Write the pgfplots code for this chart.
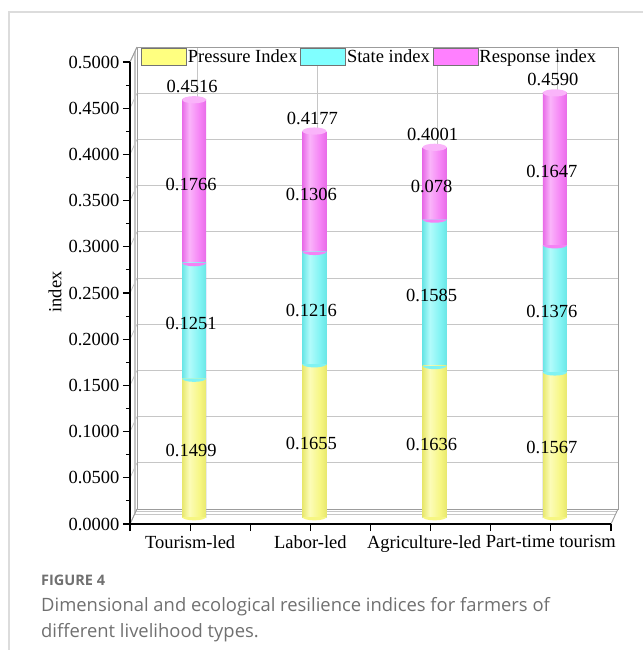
\documentclass[border=0pt]{standalone}
\usepackage{pgfplots}
\pgfplotsset{compat=1.18}
\usepackage{pgfplotstable}
\usepackage{fontspec}
\setmainfont{Liberation Serif}
\newfontfamily\capfont{Open Sans}

% bar colours: dark edge, highlight, body
\definecolor{presYd}{HTML}{E8E86E}
\definecolor{presYl}{HTML}{FCFCB8}
\definecolor{presY}{HTML}{F6F682}
\definecolor{stateCd}{HTML}{6AE6E6}
\definecolor{stateCl}{HTML}{B2FBFB}
\definecolor{stateC}{HTML}{80F3F3}
\definecolor{respMd}{HTML}{E86CE8}
\definecolor{respMl}{HTML}{FAB4FA}
\definecolor{respM}{HTML}{F582F5}
\definecolor{legY}{HTML}{FFFF80}
\definecolor{legC}{HTML}{80FFFF}
\definecolor{legM}{HTML}{FF80FF}
\definecolor{wallEdge}{HTML}{9C9C9C}
\definecolor{wallGrid}{HTML}{C6C6C6}
\definecolor{frameG}{HTML}{DCDCDC}
\definecolor{capG}{HTML}{707070}

% horizontal shadings that give the bars a cylinder look
\pgfdeclarehorizontalshading{cylY}{100bp}{color(0bp)=(presYd); color(25bp)=(presYd); color(40bp)=(presYl); color(62bp)=(presY); color(75bp)=(presYd); color(100bp)=(presYd)}
\pgfdeclarehorizontalshading{cylC}{100bp}{color(0bp)=(stateCd); color(25bp)=(stateCd); color(40bp)=(stateCl); color(62bp)=(stateC); color(75bp)=(stateCd); color(100bp)=(stateCd)}
\pgfdeclarehorizontalshading{cylM}{100bp}{color(0bp)=(respMd); color(25bp)=(respMd); color(40bp)=(respMl); color(62bp)=(respM); color(75bp)=(respMd); color(100bp)=(respMd)}

% lower half of an ellipse: the rounded bottom of a cylinder segment
\pgfdeclareplotmark{lowhalf}{%
  \pgfpathmoveto{\pgfqpoint{-\pgfplotmarksize}{0pt}}%
  \pgfpatharc{180}{360}{\pgfplotmarksize and 0.28\pgfplotmarksize}%
  \pgfpathclose\pgfusepathqfill}
% full ellipse: the cylinder's top face
\pgfdeclareplotmark{topcap}{%
  \pgfpathellipse{\pgfpointorigin}{\pgfqpoint{\pgfplotmarksize}{0pt}}{\pgfqpoint{0pt}{0.3\pgfplotmarksize}}%
  \pgfusepathqfill}

\pgfplotstableread{
x P S R
0 0.1499 0.1251 0.1766
1 0.1655 0.1216 0.1306
2 0.1636 0.1585 0.0780
3 0.1567 0.1376 0.1647
}\indextab

\newcommand\chartfont{\fontsize{18.5}{20}\selectfont}

\pgfplotsset{
  plane/.style={scale only axis, width=481pt, height=462pt,
    xmin=-0.5, xmax=3.5, ymin=0, ymax=0.5, anchor=south west},
  cyl/.style={ybar, bar width=24pt, bar shift=0pt, draw=none, shade, shading=#1, forget plot},
  seam/.style={only marks, mark=lowhalf, mark size=12pt, mark options={fill=#1}, forget plot},
}

\begin{document}
\begin{tikzpicture}
\path[use as bounding box] (0pt,0pt) rectangle (643pt,-650pt);
\draw[frameG, line width=1.5pt] (9pt,-650pt) -- (9pt,-12pt) -- (643pt,-12pt);

% back wall with its grid
\begin{axis}[plane, at={(137pt,-509pt)},
  axis line style={wallEdge, line width=0.9pt},
  xtick={0,1,2,3}, ytick={0,0.05,0.1,0.15,0.2,0.25,0.3,0.35,0.4,0.45,0.5},
  xticklabels={}, yticklabels={}, tick style={draw=none},
  grid=major, major grid style={wallGrid, line width=0.9pt}]
\addplot[draw=none, forget plot] coordinates {(0,0)};
\end{axis}

% side wall and floor
\foreach \f in {0.67,0.83} {
  \draw[wallGrid, line width=0.8pt] ({130pt+7pt*\f},{-524pt+15pt*\f}) -- ({130pt+7pt*\f},{-62pt+15pt*\f});
  \draw[wallGrid, line width=0.8pt] ({130pt+7pt*\f},{-524pt+15pt*\f}) -- ({611pt+7pt*\f},{-524pt+15pt*\f});
}
\foreach \v in {0,1,...,10} {
  \draw[wallGrid, line width=0.8pt] (130pt,{-524pt+46.2pt*\v}) -- ++(7pt,15pt);
}
\draw[wallEdge, line width=0.9pt] (130pt,-524pt) -- ++(7pt,15pt);
\draw[wallEdge, line width=0.9pt] (611pt,-524pt) -- ++(7pt,15pt);
\draw[wallEdge, line width=0.9pt] (130pt,-62pt) -- ++(7pt,15pt);

% front axes with ticks and labels
\begin{axis}[plane, at={(130pt,-524pt)},
  axis lines*=left, axis line style={black, line width=1.1pt},
  xtick={0,1,2,3},
  xticklabels={Tourism-led, Labor-led, {\makebox[0pt]{Agriculture-led\hspace{13pt}}}, Part-time tourism},
  extra x ticks={-0.5,0.5,1.5,2.5,3.5}, extra x tick labels={},
  ytick={0,0.05,0.1,0.15,0.2,0.25,0.3,0.35,0.4,0.45,0.5},
  minor y tick num=1,
  tick align=outside, major tick length=7pt, minor tick length=4pt,
  tick style={black, line width=1.1pt},
  ticklabel style={font=\chartfont},
  yticklabel style={/pgf/number format/.cd, fixed, fixed zerofill, precision=4, assume math mode=true},
  xticklabel style={yshift=-1pt}]
\addplot[draw=none, forget plot] coordinates {(0,0)};
\end{axis}

% the cylinders, set back half the depth
\begin{axis}[plane, at={(134pt,-517pt)}, axis lines=none, clip=false,
  legend columns=3,
  legend image code/.code={\draw[#1, draw=black!55, line width=0.7pt] (0pt,-8.5pt) rectangle (45pt,8.5pt);},
  legend style={at={(axis description cs:0.0146,1.0152)}, anchor=north west,
    draw=none, fill=none, inner sep=0pt, font=\chartfont,
    nodes={inner xsep=1pt, inner ysep=1pt},
    /tikz/every even column/.append style={column sep=2pt}}]
% one cylinder per livelihood type, so each gets its own shading
\pgfplotsinvokeforeach{-0.2:0.2, 0.8:1.2, 1.8:2.2, 2.8:3.2}{
  \addplot[seam=presY, restrict x to domain=#1] table[x=x, y expr=0] {\indextab};
  \addplot[cyl=cylM, restrict x to domain=#1] table[x=x, y expr=\thisrow{P}+\thisrow{S}+\thisrow{R}] {\indextab};
  \addplot[cyl=cylC, restrict x to domain=#1] table[x=x, y expr=\thisrow{P}+\thisrow{S}] {\indextab};
  \addplot[cyl=cylY, restrict x to domain=#1] table[x=x, y=P] {\indextab};
}
\addplot[seam=stateC] table[x=x, y=P] {\indextab};
\addplot[seam=respM] table[x=x, y expr=\thisrow{P}+\thisrow{S}] {\indextab};
\addplot[only marks, mark=topcap, mark size=12pt, mark options={fill=respMl}, forget plot]
  table[x=x, y expr=\thisrow{P}+\thisrow{S}+\thisrow{R}] {\indextab};

\addlegendimage{fill=legY}\addlegendentry{Pressure Index}
\addlegendimage{fill=legC}\addlegendentry{State index}
\addlegendimage{fill=legM}\addlegendentry{Response index}

\begin{scope}[every node/.style={font=\chartfont, inner sep=0pt, xshift=-3pt, yshift=-3pt}]
\node at (axis cs:0,0.07495) {0.1499};
\node at (axis cs:0,0.21245) {0.1251};
\node at (axis cs:0,0.3633) {0.1766};
\node at (axis cs:1,0.08275) {0.1655};
\node at (axis cs:1,0.2263) {0.1216};
\node at (axis cs:1,0.3524) {0.1306};
\node at (axis cs:2,0.0818) {0.1636};
\node at (axis cs:2,0.24285) {0.1585};
\node at (axis cs:2,0.3611) {0.078};
\node at (axis cs:3,0.07835) {0.1567};
\node at (axis cs:3,0.2255) {0.1376};
\node at (axis cs:3,0.37665) {0.1647};
\end{scope}
\begin{scope}[every node/.style={font=\chartfont, inner sep=0pt, anchor=base, xshift=-2pt, yshift=7pt}]
\node at (axis cs:0,0.4516) {0.4516};
\node at (axis cs:1,0.4177) {0.4177};
\node at (axis cs:2,0.4001) {0.4001};
\node at (axis cs:3,0.4590) {0.4590};
\end{scope}
\end{axis}

\node[rotate=90, font=\chartfont] at (55pt,-292pt) {index};

% caption
\node[anchor=base west, inner sep=0pt, text=capG, font=\capfont\bfseries\fontsize{14.5}{16}\selectfont] at (41pt,-585pt) {FIGURE 4};
\node[anchor=base west, inner sep=0pt, text=capG, font=\capfont\fontsize{18.4}{20}\selectfont] at (41pt,-611pt) {Dimensional and ecological resilience indices for farmers of};
\node[anchor=base west, inner sep=0pt, text=capG, font=\capfont\fontsize{18.4}{20}\selectfont] at (41pt,-637pt) {different livelihood types.};
\end{tikzpicture}
\end{document}
